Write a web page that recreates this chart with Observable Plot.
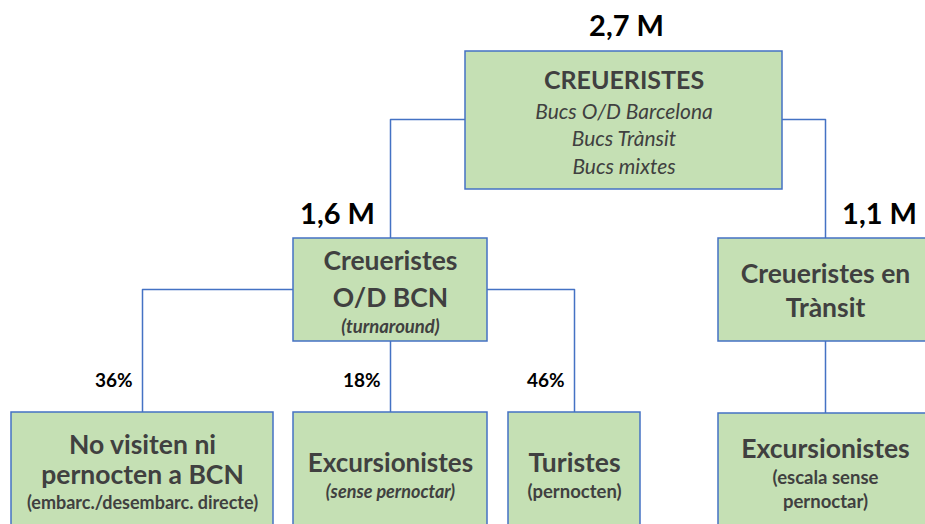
<!DOCTYPE html>
<html>
<head>
<meta charset="utf-8">
<script src="https://cdn.jsdelivr.net/npm/d3@7"></script>
<script src="https://cdn.jsdelivr.net/npm/@observablehq/plot@0.6"></script>
<style>
  html, body { margin: 0; padding: 0; background: #fff; }
  #chart svg { display: block; }
</style>
</head>
<body>
<div id="chart"></div>
<script>
// ---- DATA ----
const nodeIds = ["root", "od", "transit", "noVisit", "excOd", "turistes", "excTr"];
const nodeTitles = [
  ["CREUERISTES"],
  ["Creueristes", "O/D BCN"],
  ["Creueristes en", "Trànsit"],
  ["No visiten ni", "pernocten a BCN"],
  ["Excursionistes"],
  ["Turistes"],
  ["Excursionistes"]
];
const nodeNotes = [
  ["Bucs O/D Barcelona", "Bucs Trànsit", "Bucs mixtes"],
  ["(turnaround)"],
  [],
  ["(embarc./desembarc. directe)"],
  ["(sense pernoctar)"],
  ["(pernocten)"],
  ["(escala sense", "pernoctar)"]
];
const parents = [null, "root", "root", "od", "od", "od", "transit"];
const totals = ["2,7 M", "1,6 M", "1,1 M"];           // root, od, transit
const totalNodes = ["root", "od", "transit"];
const shares = ["36%", "18%", "46%"];                 // noVisit, excOd, turistes
const shareNodes = ["noVisit", "excOd", "turistes"];

// ---- LAYOUT (diagram geometry, pixel units) ----
const boxes = {
  root:     {x1: 465, x2: 782, y1: 51,  y2: 189, branchY: 119},
  od:       {x1: 293, x2: 487, y1: 238, y2: 341, branchY: 289},
  transit:  {x1: 718, x2: 932, y1: 238, y2: 341, branchY: null},
  noVisit:  {x1: 11,  x2: 273, y1: 412, y2: 540},
  excOd:    {x1: 293, x2: 487, y1: 412, y2: 540},
  turistes: {x1: 508, x2: 640, y1: 412, y2: 540},
  excTr:    {x1: 718, x2: 932, y1: 413, y2: 540}
};
const titleY = {
  root: [80], od: [261, 298], transit: [274, 308],
  noVisit: [445, 475], excOd: [463], turistes: [463], excTr: [449]
};
const noteY = {
  root: [112, 139, 167], od: [327], transit: [],
  noVisit: [503], excOd: [492], turistes: [492], excTr: [478, 502]
};
const titleSize = {root: 25, od: 26.5, transit: 26.5, noVisit: 26.5, excOd: 26, turistes: 26.5, excTr: 26.5};
const noteSize = {root: 21, od: 18.5, transit: 18.5, noVisit: 18, excOd: 18, turistes: 18.5, excTr: 18.5};
const noteItalic = {root: true, od: true, excOd: true};

const cx = id => (boxes[id].x1 + boxes[id].x2) / 2;

// ---- build mark data ----
const rects = nodeIds.map(id => ({id, ...boxes[id]}));

const titleRows = [];
const noteRows = [];
nodeIds.forEach((id, i) => {
  nodeTitles[i].forEach((t, j) => titleRows.push({x: cx(id), y: titleY[id][j], text: t, size: titleSize[id]}));
  nodeNotes[i].forEach((t, j) => noteRows.push({x: cx(id), y: noteY[id][j], text: t, size: noteSize[id], italic: !!noteItalic[id], bold: id !== "root"}));
});

// connectors
const links = [];
nodeIds.forEach((id, i) => {
  const p = parents[i];
  if (!p) return;
  const pb = boxes[p], b = boxes[id];
  const xc = cx(id), pc = cx(p);
  const top = b.y1;
  if (Math.abs(xc - pc) < 2) {
    links.push({z: id, x: pc, y: pb.y2}, {z: id, x: pc, y: top});
  } else {
    const sx = xc < pc ? pb.x1 : pb.x2;
    links.push({z: id, x: sx, y: pb.branchY}, {z: id, x: xc, y: pb.branchY}, {z: id, x: xc, y: top});
  }
});

const totalPos = {root: {x: 626, y: 26}, od: {x: 337, y: 214}, transit: {x: 879, y: 214}};
const totalLabels = totals.map((t, i) => ({text: t, ...totalPos[totalNodes[i]]}));
const shareLabels = shares.map((s, i) => ({text: s, x: cx(shareNodes[i]) - 10, y: 380}));

const txtColor = "#404040";
const font = "Lato, 'Open Sans', sans-serif";

const chart = Plot.plot({
  width: 925,
  height: 524,
  margin: 0,
  x: {domain: [0, 925], range: [0, 925], axis: null},
  y: {domain: [0, 524], range: [0, 524], axis: null},
  style: {fontFamily: font, background: "#fff"},
  marks: [
    Plot.line(links, {x: "x", y: "y", z: "z", stroke: "#4472c4", strokeWidth: 1.5, curve: "linear"}),
    Plot.rect(rects, {x1: "x1", x2: "x2", y1: "y1", y2: "y2", fill: "#c5e0b4", stroke: "#4472c4", strokeWidth: 1.5}),
    Plot.text(titleRows, {x: "x", y: "y", text: "text", fontSize: "size", fontWeight: "bold", fill: txtColor, textAnchor: "middle", lineAnchor: "middle"}),
    Plot.text(noteRows.filter(d => d.italic && d.bold), {x: "x", y: "y", text: "text", fontSize: "size", fontWeight: "bold", fontStyle: "italic", fill: txtColor, lineAnchor: "middle"}),
    Plot.text(noteRows.filter(d => d.italic && !d.bold), {x: "x", y: "y", text: "text", fontSize: "size", fontStyle: "italic", fill: txtColor, lineAnchor: "middle"}),
    Plot.text(noteRows.filter(d => !d.italic), {x: "x", y: "y", text: "text", fontSize: "size", fontWeight: "bold", fill: txtColor, lineAnchor: "middle"}),
    Plot.text(totalLabels, {x: "x", y: "y", text: "text", fontSize: 29, fontWeight: "bold", fill: "#000", lineAnchor: "middle"}),
    Plot.text(shareLabels, {x: "x", y: "y", text: "text", fontSize: 19, fontWeight: "bold", fill: "#000", textAnchor: "end", lineAnchor: "middle"})
  ]
});
document.getElementById("chart").appendChild(chart);
</script>
</body>
</html>
